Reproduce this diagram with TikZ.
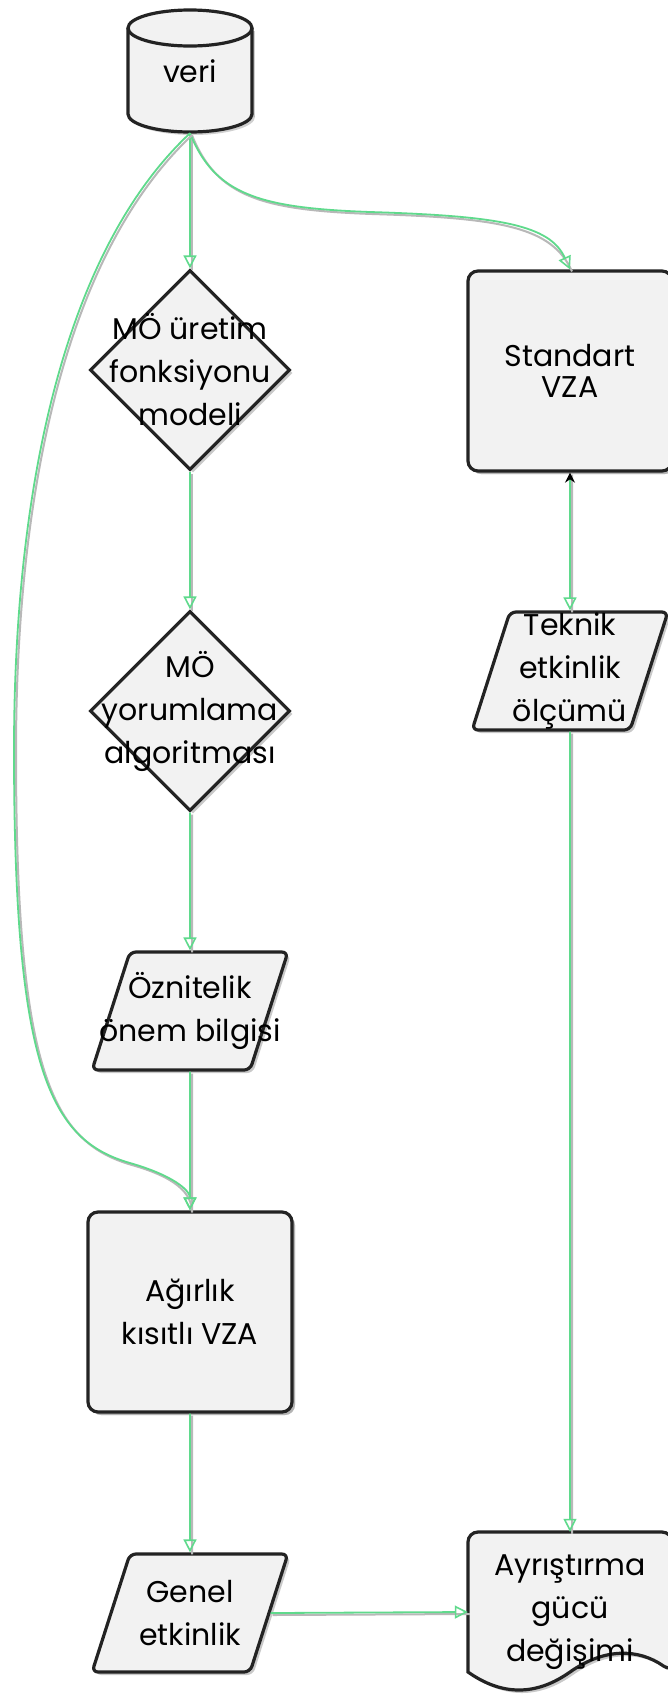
\documentclass[tikz,border=0pt]{standalone}
\usepackage{fontspec}
\setmainfont{Poppins}
\usetikzlibrary{shapes.geometric,arrows.meta,shadows}
\definecolor{conn}{RGB}{95,218,140}
\definecolor{nodefill}{RGB}{242,242,242}
\definecolor{nodeline}{RGB}{35,35,35}
\tikzset{
  base/.style={draw=nodeline, line width=3.2pt, fill=nodefill,
    drop shadow={shadow xshift=3pt, shadow yshift=-3pt, fill=black!35, opacity=0.6}},
  lbl/.style={font=\fontsize{30}{43}\selectfont, align=center, text=black, inner sep=0pt},
  boxnode/.style={base, rectangle, rounded corners=10pt, minimum width=204pt, minimum height=200pt, inner sep=0pt},
  dianode/.style={base, diamond, minimum width=200pt, minimum height=200pt, inner sep=0pt},
  paranode/.style={base, trapezium, trapezium left angle=70, trapezium right angle=110,
    trapezium stretches=true, minimum width=196pt, minimum height=118pt, inner sep=2pt, rounded corners=6pt},
  shadowline/.style={draw=black!28, line width=2pt, transform canvas={xshift=2pt, yshift=-2pt}},
  link/.style={draw=conn, line width=1.8pt,
    -{Triangle[open, length=13pt, width=13pt, line width=1.6pt]},
    preaction={shadowline, -}},
}
\begin{document}
\begin{tikzpicture}[x=1pt, y=-1pt]
\fill[white] (0,0) rectangle (668,1695);
\useasboundingbox (0,0) rectangle (668,1695);

% ---- veri (cylinder) ----
\fill[black!30, opacity=0.6] (131,31) rectangle (255,117);
\fill[black!30, opacity=0.6] (193,117) ellipse[x radius=62pt, y radius=18pt];
\fill[nodefill] (128,28) rectangle (252,114);
\fill[nodefill] (190,114) ellipse[x radius=62pt, y radius=18pt];
\draw[nodeline, line width=3.2pt] (128,28) -- (128,114) arc[start angle=180, end angle=360, x radius=62pt, y radius=18pt] -- (252,28);
\draw[nodeline, line width=3.2pt, fill=nodefill] (190,28) ellipse[x radius=62pt, y radius=18pt];
\node[lbl, minimum width=124pt, minimum height=124pt] (veri) at (190,71) {veri};

% ---- left column ----
\node[dianode, label={[lbl]center:{MÖ üretim\\fonksiyonu\\modeli}}] (d1) at (190,370) {};
\node[dianode, label={[lbl]center:{MÖ\\yorumlama\\algoritması}}] (d2) at (190,711) {};
\node[paranode, label={[lbl]center:{Öznitelik\\önem bilgisi}}] (ozn) at (190,1011) {\phantom{M}};
\node[boxnode, lbl, base] (agir) at (190,1312) {Ağırlık\\kısıtlı VZA};
\node[paranode, label={[lbl]center:{Genel\\etkinlik}}] (gen) at (190,1613) {\phantom{M}};

% ---- right column ----
\node[boxnode, lbl, base, font=\fontsize{30}{31}\selectfont] (std) at (570,371) {Standart\\VZA};
\node[paranode, label={[lbl]center:{Teknik\\etkinlik\\ölçümü}}] (tek) at (570,671) {\phantom{M}};

% document shape
\fill[black!35, opacity=0.6, rounded corners=10pt] (471,1675) -- (471,1535) -- (675,1535) -- (675,1675) [sharp corners]
  .. controls (641,1651) and (607,1651) .. (573,1675) .. controls (539,1699) and (505,1699) .. (471,1675) -- cycle;
\draw[nodeline, line width=3.2pt, fill=nodefill, rounded corners=10pt] (468,1672) -- (468,1532) -- (672,1532) -- (672,1672) [sharp corners]
  .. controls (638,1648) and (604,1648) .. (570,1672) .. controls (536,1696) and (502,1696) .. (468,1672) -- cycle;
\node[lbl, minimum width=204pt, minimum height=160pt] (ayr) at (570,1612) {Ayrıştırma\\gücü\\değişimi};

% ---- connectors ----
\draw[link] (veri.south) -- (d1.north);
\draw[link] (d1.south) -- (d2.north);
\draw[link] (d2.south) -- (ozn.north);
\draw[link] (ozn.south) -- (agir.north);
\draw[link] (agir.south) -- (gen.north);
\draw[link] (gen.east) -- (ayr.west);
\draw[link] (tek.south) -- (ayr.north);
\draw[link, {Stealth[black, length=10pt, width=10pt]}-{Triangle[open, length=13pt, width=13pt, line width=1.6pt]}] (std.south) -- (tek.north);
\draw[link] (veri.south) .. controls (215,195) and (260,208) .. (370,212)
  .. controls (500,216) and (550,225) .. (std.north);
\draw[link] (veri.south) .. controls (60,255) and (14,500) .. (14,750)
  .. controls (14,1070) and (50,1140) .. (130,1163)
  .. controls (172,1175) and (190,1190) .. (agir.north);
\end{tikzpicture}
\end{document}
